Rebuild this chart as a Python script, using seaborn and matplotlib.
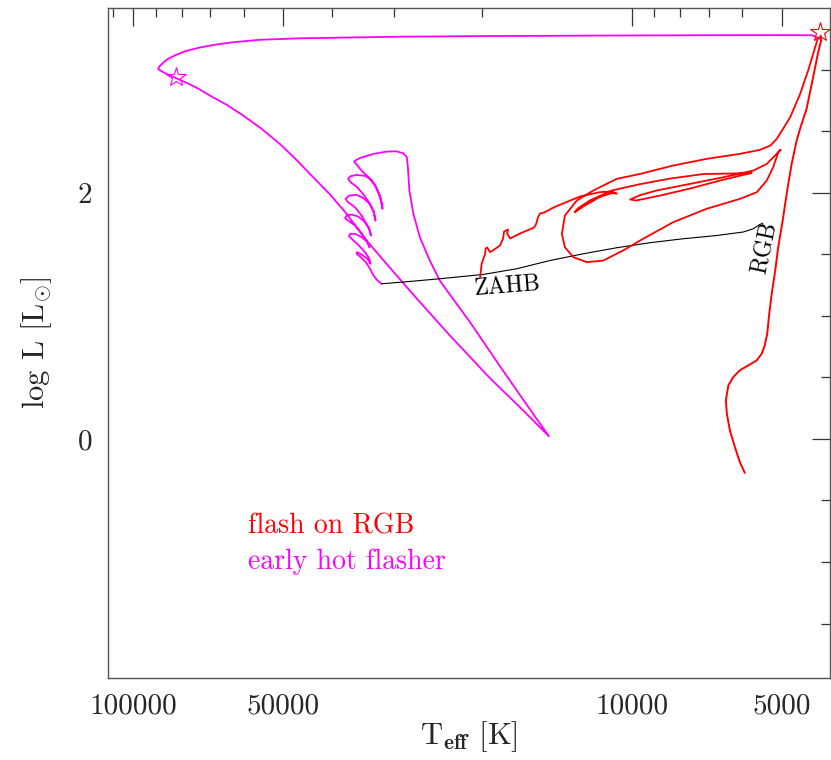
import numpy as np
import pandas as pd
import matplotlib
matplotlib.use("Agg")
import matplotlib.pyplot as plt
from matplotlib.ticker import FixedLocator, FixedFormatter, NullFormatter
import seaborn as sns

# ---- evolutionary tracks: log Teff [K] and log L [Lsun] ----
# early hot flasher: RGB tip -> blue -> white-dwarf cooling -> flash loops -> ZAHB
hot_logt = [3.622, 3.638, 3.702, 3.863, 4.064, 4.264, 4.465, 4.666, 4.746, 4.800,
            4.836, 4.866, 4.896, 4.913, 4.930, 4.940, 4.948, 4.950,
            4.936, 4.900, 4.873, 4.846, 4.813, 4.779, 4.743, 4.706, 4.673, 4.639,
            4.605, 4.572, 4.532, 4.492, 4.431,
            4.365, 4.284, 4.224, 4.184, 4.166,
            4.214, 4.264, 4.324, 4.365, 4.385, 4.405, 4.425, 4.438, 4.446, 4.449,
            4.451, 4.458, 4.472, 4.492, 4.518, 4.545, 4.557,
            4.542, 4.528, 4.515, 4.505, 4.500, 4.500,
            4.504, 4.512, 4.522, 4.535, 4.552, 4.564, 4.569,
            4.564, 4.552, 4.539, 4.525, 4.517, 4.514,
            4.518, 4.526, 4.539, 4.552, 4.567, 4.574,
            4.569, 4.555, 4.542, 4.532, 4.525, 4.523,
            4.527, 4.537, 4.549, 4.562, 4.572, 4.575,
            4.569, 4.555, 4.542, 4.532, 4.526,
            4.530, 4.542, 4.555, 4.565, 4.567,
            4.562, 4.549, 4.535, 4.526, 4.524,
            4.530, 4.542, 4.551, 4.552,
            4.542, 4.532, 4.525, 4.518, 4.510, 4.502]
hot_logl = [3.252, 3.281, 3.282, 3.281, 3.278, 3.275, 3.269, 3.256, 3.244, 3.224,
            3.204, 3.182, 3.151, 3.123, 3.090, 3.058, 3.025, 3.005,
            2.972, 2.907, 2.855, 2.790, 2.717, 2.627, 2.522, 2.398, 2.270, 2.127,
            1.986, 1.830, 1.613, 1.424, 1.140,
            0.842, 0.493, 0.257, 0.095, 0.022,
            0.298, 0.590, 0.947, 1.175, 1.288, 1.450, 1.640, 1.830, 2.019, 2.208,
            2.289, 2.321, 2.338, 2.335, 2.317, 2.284, 2.256,
            2.181, 2.127, 2.059, 1.978, 1.897, 1.870,
            1.951, 2.045, 2.106, 2.138, 2.146, 2.135, 2.114,
            2.086, 2.051, 1.992, 1.911, 1.843, 1.775,
            1.851, 1.911, 1.959, 1.984, 1.978, 1.951,
            1.924, 1.883, 1.816, 1.748, 1.688, 1.653,
            1.716, 1.769, 1.808, 1.824, 1.816, 1.794,
            1.775, 1.735, 1.672, 1.613, 1.558,
            1.599, 1.640, 1.667, 1.667, 1.648,
            1.627, 1.580, 1.518, 1.464, 1.424,
            1.464, 1.499, 1.518, 1.505,
            1.472, 1.429, 1.383, 1.329, 1.288, 1.261]

# flash on the RGB: lower giant branch up to the tip
rgb_logt = [3.773, 3.783, 3.793, 3.803, 3.809, 3.811, 3.806, 3.796, 3.783, 3.766,
            3.749, 3.739, 3.733, 3.728, 3.724, 3.719, 3.712, 3.706, 3.697, 3.688,
            3.679, 3.669, 3.662, 3.649, 3.636, 3.626, 3.620, 3.621]
rgb_logl = [-0.276, -0.187, -0.065, 0.071, 0.206, 0.314, 0.436, 0.503, 0.558, 0.598,
            0.639, 0.693, 0.761, 0.856, 1.018, 1.180, 1.369, 1.558, 1.775, 2.019,
            2.235, 2.425, 2.522, 2.684, 2.938, 3.139, 3.236, 3.277]

# flash on the RGB: post-flash loops down to the ZAHB
flash_logt = [3.626, 3.632, 3.646, 3.662, 3.682, 3.696, 3.709, 3.722, 3.743, 3.783,
              3.850, 3.917, 3.983, 4.030, 4.077, 4.110, 4.134, 4.140, 4.134, 4.117,
              4.090, 4.057, 4.017, 3.983, 3.917, 3.850, 3.783, 3.749, 3.729, 3.716,
              3.706, 3.701,
              3.709, 3.729, 3.756, 3.816, 3.883, 3.950, 3.983, 4.003,
              3.991, 3.943, 3.883, 3.823, 3.773, 3.759,
              3.803, 3.856, 3.923, 3.983, 4.040, 4.084, 4.108, 4.114,
              4.094, 4.064, 4.040, 4.030, 4.040, 4.064, 4.104, 4.157, 4.168,
              4.176, 4.184, 4.188, 4.192, 4.196, 4.224, 4.244, 4.250, 4.248,
              4.256, 4.258, 4.264, 4.284, 4.290, 4.293, 4.294, 4.301, 4.304]
flash_logl = [3.261, 3.182, 2.993, 2.804, 2.614, 2.522, 2.438, 2.384, 2.349, 2.317,
              2.276, 2.222, 2.154, 2.114, 2.019, 1.938, 1.816, 1.667, 1.558, 1.477,
              1.437, 1.450, 1.532, 1.613, 1.761, 1.870, 1.951, 2.005, 2.100, 2.208,
              2.330, 2.351,
              2.317, 2.235, 2.181, 2.127, 2.073, 2.019, 1.982, 1.946,
              1.938, 1.978, 2.035, 2.100, 2.149, 2.161,
              2.157, 2.153, 2.116, 2.071, 2.019, 1.938, 1.873, 1.843,
              1.897, 1.966, 1.998, 1.994, 2.011, 2.006, 1.970, 1.881, 1.856,
              1.840, 1.832, 1.799, 1.743, 1.718, 1.670, 1.629, 1.670, 1.702,
              1.686, 1.629, 1.572, 1.518, 1.556, 1.548, 1.505, 1.424, 1.315]

# zero-age horizontal branch
zahb_logt = [4.502, 4.445, 4.385, 4.298, 4.231, 4.164, 4.097, 4.030, 3.963, 3.897,
             3.830, 3.776, 3.756, 3.743, 3.737]
zahb_logl = [1.261, 1.280, 1.302, 1.337, 1.383, 1.450, 1.505, 1.554, 1.595, 1.627,
             1.653, 1.682, 1.708, 1.743, 1.753]

# helium-flash onsets (log Teff, log L)
flash_star_red = (3.622, 3.304)
flash_star_hot = (4.914, 2.938)

# axis ticks
x_major_ticks = [100000, 50000, 10000, 5000]
x_major_labels = ["100000", "50000", "10000", "5000"]
x_minor_ticks = [110000, 90000, 80000, 70000, 60000, 40000, 30000, 20000,
                 9000, 8000, 7000, 6000]
y_major_ticks = [0, 2]
y_major_labels = ["0", "2"]
y_minor_ticks = [-1.5, -1.0, -0.5, 0.5, 1.0, 1.5, 2.5, 3.0]

RED = "#ff0000"
MAGENTA = "#ff00ff"

sns.set_theme(style="white")
plt.rcParams.update({
    "font.family": "cmr10",
    "mathtext.fontset": "cm",
    "axes.formatter.use_mathtext": True,
    "axes.unicode_minus": False,
})

fig = plt.figure(figsize=(8.31, 7.60), dpi=100)
ax = fig.add_axes([0.1296, 0.1083, 0.8692, 0.8808])
ax.set_xscale("log")


def track(logt, logl, color, lw):
    df = pd.DataFrame({"teff": 10 ** np.asarray(logt), "logl": logl})
    sns.lineplot(data=df, x="teff", y="logl", sort=False, estimator=None,
                 color=color, lw=lw, ax=ax)


track(hot_logt, hot_logl, MAGENTA, 1.3)
track(zahb_logt, zahb_logl, "black", 0.8)
track(rgb_logt, rgb_logl, RED, 1.4)
track(flash_logt, flash_logl, RED, 1.3)

for (lt, ll), c in [(flash_star_hot, MAGENTA), (flash_star_red, RED)]:
    ax.plot([10 ** lt], [ll], marker="*", markersize=15, markerfacecolor="none",
            markeredgecolor=c, markeredgewidth=0.8, linestyle="none")

ax.set_xlim(112540, 4000)
ax.set_ylim(-1.94, 3.5)

ax.xaxis.set_major_locator(FixedLocator(x_major_ticks))
ax.xaxis.set_major_formatter(FixedFormatter(x_major_labels))
ax.xaxis.set_minor_locator(FixedLocator(x_minor_ticks))
ax.xaxis.set_minor_formatter(NullFormatter())
ax.yaxis.set_major_locator(FixedLocator(y_major_ticks))
ax.yaxis.set_major_formatter(FixedFormatter(y_major_labels))
ax.yaxis.set_minor_locator(FixedLocator(y_minor_ticks))
ax.yaxis.set_minor_formatter(NullFormatter())

ax.tick_params(which="both", direction="in", top=True, right=True,
               color="#333333", width=0.9, labelsize=21, pad=11)
ax.tick_params(which="major", length=13)
ax.tick_params(which="minor", length=6.5)
for sp in ax.spines.values():
    sp.set_color("#555555")
    sp.set_linewidth(1.0)

ax.set_xlabel(r"T$_{\mathbf{eff}}$ [K]", fontsize=22, labelpad=0)
ax.set_ylabel(r"log L [L$_{\odot}$]", fontsize=22, labelpad=17)

ax.text(10 ** 4.250, 1.239, "ZAHB", rotation=4.5, ha="center", va="center",
        fontsize=17, color="black")
ax.text(10 ** 3.733, 1.556, "RGB", rotation=78, ha="center", va="center",
        fontsize=17, color="black")

ax.text(0.1947, 0.216, "flash on RGB", transform=ax.transAxes, color=RED,
        fontsize=20, ha="left", va="baseline")
ax.text(0.1947, 0.163, "early hot flasher", transform=ax.transAxes, color=MAGENTA,
        fontsize=20, ha="left", va="baseline")

fig.savefig("out.png", dpi=100)
